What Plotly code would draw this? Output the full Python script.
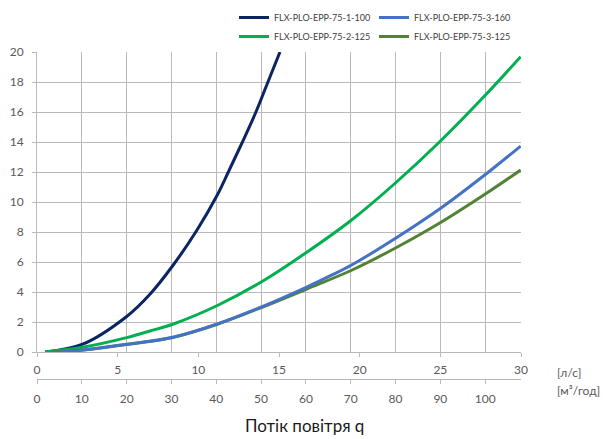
import plotly.graph_objects as go

# Air flow q [l/s] and pressure drop [Pa]
q_1_100 = [0.5, 2.83, 5.56, 7.0, 8.41, 9.9, 11.14, 11.86, 12.69, 13.57, 14.24, 15.06]
dp_1_100 = [0.0, 0.52, 2.37, 3.85, 5.75, 8.1, 10.4, 12.0, 13.9, 16.0, 17.8, 20.0]

q_2_125 = [0.5, 2.83, 5.56, 7.0, 8.41, 11.18, 13.95, 16.72, 19.5, 22.25, 25.04, 27.81, 29.98]
dp_2_125 = [0.0, 0.32, 0.96, 1.4, 1.85, 3.1, 4.7, 6.65, 8.8, 11.3, 14.1, 17.15, 19.69]

q_3_160 = [1.4, 2.83, 5.56, 8.41, 11.18, 13.95, 16.72, 18.16, 19.5, 22.25, 25.04, 27.81, 29.98]
dp_3_160 = [0.0, 0.13, 0.51, 0.98, 1.87, 3.02, 4.33, 5.07, 5.8, 7.6, 9.6, 11.85, 13.73]

q_3_125 = [0.9, 2.83, 5.56, 8.41, 11.18, 13.95, 16.72, 19.5, 22.25, 25.04, 27.81, 29.98]
dp_3_125 = [0.0, 0.13, 0.5, 0.97, 1.85, 2.98, 4.2, 5.45, 6.95, 8.65, 10.55, 12.13]

ls_ticks = [0, 5, 10, 15, 20, 25, 30]
m3h_ticks = [0, 10, 20, 30, 40, 50, 60, 70, 80, 90, 100]
y_ticks = [0, 2, 4, 6, 8, 10, 12, 14, 16, 18, 20]

names = ["FLX-PLO-EPP-75-1-100", "FLX-PLO-EPP-75-3-160",
         "FLX-PLO-EPP-75-2-125", "FLX-PLO-EPP-75-3-125"]

FONT = "Lato, 'Open Sans', sans-serif"
GRID = "#B9B9B9"
TICKC = "#595959"

fig = go.Figure()

# (x, y, name, colour, legend, rank)
series = [
    (q_1_100, dp_1_100, names[0], "#0B2563", "legend", 1),
    (q_2_125, dp_2_125, names[2], "#00B050", "legend", 2),
    (q_3_125, dp_3_125, names[3], "#548235", "legend2", 2),
    (q_3_160, dp_3_160, names[1], "#4472C4", "legend2", 1),
]
for qx, dy, nm, col, lg, rank in series:
    fig.add_trace(go.Scatter(
        x=qx, y=dy, name=nm, mode="lines",
        line=dict(color=col, width=3, shape="spline", smoothing=1.0),
        legend=lg, legendrank=rank, hoverinfo="skip"))

# invisible trace anchoring the secondary (m3/h) axis
fig.add_trace(go.Scatter(
    x=m3h_ticks, y=[0] * len(m3h_ticks), xaxis="x2", yaxis="y",
    mode="markers", marker=dict(opacity=0), showlegend=False,
    hoverinfo="skip"))

legend_style = dict(
    orientation="v", xref="container", yref="container",
    xanchor="left", y=1 - 3 / 439, yanchor="top",
    font=dict(family=FONT, size=9, color="#404040"),
    bgcolor="rgba(0,0,0,0)", tracegroupgap=0, itemwidth=30,
    traceorder="normal",
)

fig.update_layout(
    width=603, height=439,
    margin=dict(l=37, r=82, t=52, b=60, autoexpand=False),
    paper_bgcolor="white", plot_bgcolor="white",
    font=dict(family=FONT, color=TICKC, size=12),
    showlegend=True,
    legend=dict(x=234 / 603, **legend_style),
    legend2=dict(x=374 / 603, **legend_style),
    xaxis=dict(
        range=[0, 30], tickvals=ls_ticks, showgrid=False, zeroline=False,
        showline=True, linecolor=GRID, linewidth=1,
        ticks="outside", ticklen=4, tickcolor=GRID,
        tickfont=dict(size=12, color=TICKC), ticklabelstandoff=3,
        anchor="y", automargin=False,
    ),
    xaxis2=dict(
        range=[0, 108], tickvals=m3h_ticks, overlaying="x", side="bottom",
        anchor="free", position=0, showgrid=True, gridcolor=GRID,
        gridwidth=1, zeroline=False,
        showline=True, linecolor=GRID, linewidth=1,
        ticks="outside", ticklen=4, tickcolor=GRID,
        tickfont=dict(size=12, color=TICKC), ticklabelstandoff=5,
        automargin=False,
    ),
    yaxis=dict(
        range=[0, 20], tickvals=y_ticks, domain=[27 / 327, 1],
        showgrid=True, gridcolor=GRID, gridwidth=1, zeroline=False,
        showline=True, linecolor=GRID, linewidth=1,
        ticks="outside", ticklen=4, tickcolor=GRID,
        tickfont=dict(size=12, color=TICKC), ticklabelstandoff=6,
        automargin=False,
    ),
    annotations=[
        dict(text="[л/с]", xref="paper", yref="paper",
             x=(555 - 37) / 484, y=(379 - 372) / 327,
             xanchor="left", yanchor="middle", showarrow=False,
             font=dict(family=FONT, size=12, color=TICKC)),
        dict(text="[м³/год]", xref="paper", yref="paper",
             x=(555 - 37) / 484, y=(379 - 390) / 327,
             xanchor="left", yanchor="middle", showarrow=False,
             font=dict(family=FONT, size=12, color=TICKC)),
        dict(text="Потік повітря q", xref="paper", yref="paper",
             x=(304 - 37) / 484, y=(379 - 425) / 327,
             xanchor="center", yanchor="middle", showarrow=False,
             font=dict(family=FONT, size=17, color="#1A1A1A")),
    ],
)

fig.write_html(
    "out.html",
    config={"displayModeBar": False},
    post_script="document.body.style.margin='0';document.body.style.overflow='hidden';",
)
